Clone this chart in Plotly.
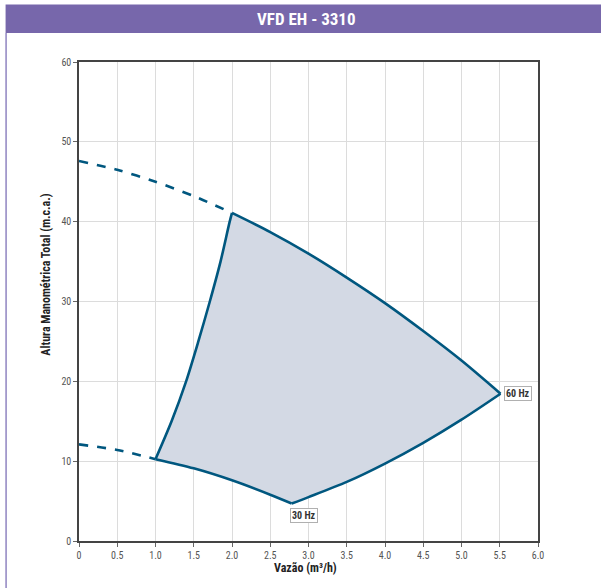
import plotly.graph_objects as go

# ---- data ----
hz60_dash_x = [0.0, 0.5, 1.0, 1.5, 2.0]
hz60_dash_y = [47.6, 46.5, 45.0, 43.2, 41.1]

hz60_x = [2.0, 2.5, 3.0, 3.5, 4.0, 4.5, 5.0, 5.51]
hz60_y = [41.1, 38.7, 36.0, 33.0, 29.8, 26.3, 22.6, 18.45]

hz30_dash_x = [0.0, 0.5, 1.0]
hz30_dash_y = [12.1, 11.4, 10.25]

hz30_x = [1.0, 1.5, 2.0, 2.5, 2.78]
hz30_y = [10.25, 9.1, 7.6, 5.8, 4.7]

right_x = [2.78, 3.0, 3.5, 4.0, 4.5, 5.0, 5.51]
right_y = [4.7, 5.5, 7.4, 9.7, 12.3, 15.2, 18.45]

left_x = [1.0, 1.21, 1.40, 1.56, 1.71, 1.85, 1.97, 2.0]
left_y = [10.25, 15, 20, 25, 30, 35, 40, 41.1]

x_ticks = [0, 0.5, 1.0, 1.5, 2.0, 2.5, 3.0, 3.5, 4.0, 4.5, 5.0, 5.5, 6.0]
x_tick_labels = ["0", "0.5", "1.0", "1.5", "2.0", "2.5", "3.0", "3.5", "4.0", "4.5", "5.0", "5.5", "6.0"]
y_ticks = [0, 10, 20, 30, 40, 50, 60]

title_text = "VFD EH - 3310"
x_title = "Vazão (m³/h)"
y_title = "Altura Manométrica Total (m.c.a.)"
label_60 = "60 Hz"
label_30 = "30 Hz"

LINE = "#00577f"
FILL = "#d3d9e4"
PURPLE = "#7767ab"
FONT = "Liberation Sans Narrow, Roboto Condensed, Arial Narrow, Roboto, sans-serif"

# polygon of operating area
poly_x = left_x + hz60_x[1:] + right_x[::-1][1:] + hz30_x[::-1][1:]
poly_y = left_y + hz60_y[1:] + right_y[::-1][1:] + hz30_y[::-1][1:]

fig = go.Figure()
fig.add_trace(go.Scatter(x=poly_x, y=poly_y, mode="lines", fill="toself",
                         fillcolor=FILL, line=dict(width=0), hoverinfo="skip",
                         showlegend=False))
for xs, ys, dash in [(hz60_dash_x, hz60_dash_y, "dash"), (hz30_dash_x, hz30_dash_y, "dash"),
                     (left_x, left_y, "solid"), (hz60_x, hz60_y, "solid"),
                     (right_x, right_y, "solid"), (hz30_x, hz30_y, "solid")]:
    fig.add_trace(go.Scatter(x=xs, y=ys, mode="lines",
                             line=dict(color=LINE, width=2.6, dash=dash, shape="spline", smoothing=0.8),
                             showlegend=False, hoverinfo="skip"))

W, H = 601, 588
L, R, T, B = 78.5, 63, 62, 47.3
pw, ph = W - L - R, H - T - B

def px(x):
    return (x - L) / pw

def py(y):
    return (H - B - y) / ph

fig.add_shape(type="rect", xref="paper", yref="paper", x0=px(5), x1=px(603),
              y0=py(33), y1=py(4.5), fillcolor=PURPLE, line=dict(width=0), layer="below")
fig.add_shape(type="line", xref="paper", yref="paper", x0=px(5.5), x1=px(5.5),
              y0=py(33), y1=py(590), line=dict(color="#8f84c0", width=1.5))

anns = [
    dict(text="<b>" + title_text + "</b>", x=px(306), y=py(19), xref="paper", yref="paper",
         showarrow=False, font=dict(family=FONT, size=17, color="white"), xanchor="center", yanchor="middle"),
    dict(text="<b>" + x_title + "</b>", x=px(305), y=py(568), xref="paper", yref="paper",
         showarrow=False, font=dict(family=FONT, size=12, color="#222"), xanchor="center", yanchor="middle"),
    dict(text="<b>" + y_title + "</b>", x=px(46), y=py(275), xref="paper", yref="paper",
         showarrow=False, textangle=-90, font=dict(family=FONT, size=12, color="#222"),
         xanchor="center", yanchor="middle"),
    dict(text="<b>" + label_60 + "</b>", x=hz60_x[-1], y=hz60_y[-1], xref="x", yref="y",
         showarrow=False, xanchor="left", yanchor="middle", xshift=3,
         bgcolor="white", bordercolor="#b0b0b0", borderwidth=1, borderpad=1,
         font=dict(family=FONT, size=10, color="#333")),
    dict(text="<b>" + label_30 + "</b>", x=hz30_x[-1], y=hz30_y[-1], xref="x", yref="y",
         showarrow=False, xanchor="left", yanchor="top", xshift=-2, yshift=-5,
         bgcolor="white", bordercolor="#b0b0b0", borderwidth=1, borderpad=1,
         font=dict(family=FONT, size=10, color="#333")),
]

fig.update_layout(
    width=W, height=H,
    margin=dict(l=L, r=R, t=T, b=B, pad=0),
    paper_bgcolor="white", plot_bgcolor="white",
    annotations=anns,
    font=dict(family=FONT, size=10, color="#555"),
    xaxis=dict(range=[0, 6], tickvals=x_ticks, ticktext=x_tick_labels, showgrid=True,
               gridcolor="#dcdcdc", gridwidth=1, zeroline=False, showline=True,
               linecolor="#444", linewidth=1.5, mirror=True, ticks="outside", ticklen=4,
               tickcolor="#666", tickfont=dict(family=FONT, size=10, color="#555")),
    yaxis=dict(range=[0, 60], tickvals=y_ticks, showgrid=True,
               gridcolor="#dcdcdc", gridwidth=1, zeroline=False, showline=True,
               linecolor="#444", linewidth=1.5, mirror=True, ticks="outside", ticklen=4,
               tickcolor="#666", tickfont=dict(family=FONT, size=10, color="#555")),
)

fig.write_html("out.html", config={"displayModeBar": False},
               post_script="document.body.style.margin='0px';document.body.style.padding='0px';")
